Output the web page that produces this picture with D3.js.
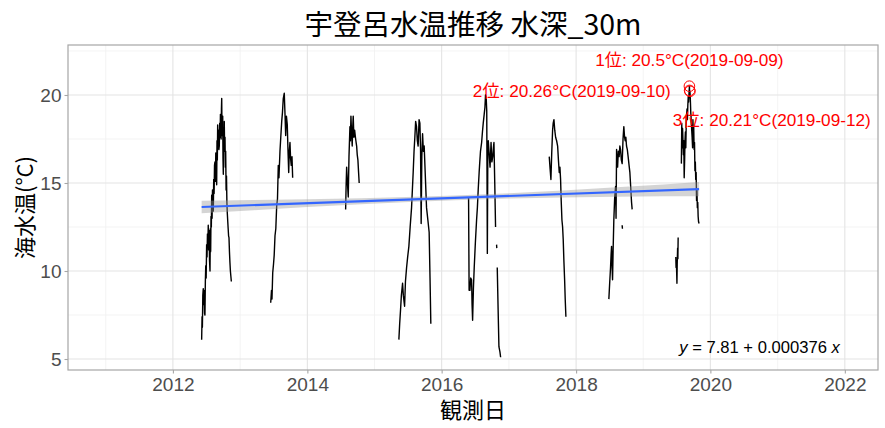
<!DOCTYPE html>
<html>
<head>
<meta charset="utf-8">
<script src="https://cdn.jsdelivr.net/npm/d3@7"></script>
<style>
  body { margin: 0; background: #fff; }
  text { font-family: "Liberation Sans", Arial, "Noto Sans CJK JP", sans-serif; }
  .cjk { font-family: "Noto Sans CJK JP", "Liberation Sans", sans-serif; }
</style>
</head>
<body>
<svg id="chart" width="885" height="428"></svg>
<script>
// Daily sea temperature at 30 m depth, Utoro. Each entry is [decimal year, °C];
// a null temperature marks a break in the record.
const season2012 = [
  [2012.427,6.1],[2012.433,7.4],[2012.438,6.8],[2012.444,8.6],[2012.451,9.0],[2012.457,8.1],
  [2012.463,8.9],[2012.470,7.6],[2012.476,7.5],[2012.482,9.4],[2012.488,10.3],[2012.494,9.6],
  [2012.501,11.5],[2012.507,10.8],[2012.513,12.1],[2012.519,11.4],[2012.525,12.6],[2012.531,11.2],
  [2012.538,12.3],[2012.544,10.6],[2012.551,10.0],[2012.556,12.4],[2012.561,11.1],[2012.566,13.1],
  [2012.571,12.5],[2012.576,14.3],[2012.582,13.0],[2012.588,14.6],[2012.594,13.8],[2012.600,13.4],
  [2012.606,15.2],[2012.612,14.4],[2012.618,16.0],[2012.625,16.2],[2012.631,15.1],[2012.637,16.7],
  [2012.644,15.6],[2012.650,14.9],[2012.655,17.4],[2012.660,16.3],[2012.665,18.3],[2012.671,17.2],
  [2012.677,18.0],[2012.683,16.9],[2012.689,17.1],[2012.695,18.4],[2012.701,17.6],[2012.706,18.9],
  [2012.710,18.7],[2012.716,17.5],[2012.721,19.2],[2012.725,19.8],[2012.729,18.1],[2012.734,17.7],
  [2012.740,18.8],[2012.744,16.4],[2012.749,15.5],[2012.754,17.9],[2012.759,16.8],[2012.763,18.5],
  [2012.768,17.0],[2012.774,17.6],[2012.779,15.9],[2012.784,16.8],[2012.790,14.6],[2012.796,15.4],
  [2012.802,13.9],[2012.808,13.3],[2012.815,12.8],[2012.821,12.4],[2012.827,12.0],[2012.833,11.9],
  [2012.840,11.1],[2012.847,10.5],[2012.854,10.0],[2012.861,9.7],[2012.868,9.4]
];
const season2013 = [
  [2013.454,8.2],[2013.466,8.9],[2013.473,8.4],[2013.484,9.9],[2013.496,10.4],[2013.506,10.9],
  [2013.518,12.0],[2013.530,12.4],[2013.543,13.7],[2013.555,14.1],[2013.567,16.0],[2013.577,15.3],
  [2013.592,16.8],[2013.604,17.6],[2013.618,18.5],[2013.629,19.0],[2013.641,19.8],[2013.656,20.1],
  [2013.667,18.9],[2013.677,17.7],[2013.688,18.8],[2013.701,18.3],[2013.711,16.9],[2013.722,15.6],
  [2013.731,16.8],[2013.741,17.3],[2013.750,16.4],[2013.760,16.0],[2013.771,16.5],[2013.781,15.3]
];
const season2014 = [
  [2014.570,13.5],[2014.577,14.8],[2014.585,15.9],[2014.597,15.0],[2014.609,14.2],[2014.620,16.5],
  [2014.634,18.2],[2014.641,17.4],[2014.649,18.8],[2014.658,17.9],[2014.668,17.1],[2014.676,18.2],
  [2014.683,18.8],[2014.693,17.6],[2014.704,18.0],[2014.719,17.5],[2014.734,17.1],[2014.743,16.6],
  [2014.753,16.3],[2014.763,15.6],[2014.772,15.0]
];
const season2015 = [
  [2015.363,6.1],[2015.375,7.0],[2015.388,7.8],[2015.400,8.6],[2015.418,9.3],[2015.430,8.6],
  [2015.448,8.0],[2015.461,9.4],[2015.478,10.2],[2015.494,10.8],[2015.512,11.4],[2015.531,12.5],
  [2015.552,13.6],[2015.564,14.6],[2015.576,15.6],[2015.589,16.8],[2015.601,17.6],[2015.613,18.5],
  [2015.626,18.2],[2015.638,17.4],[2015.650,17.1],[2015.664,18.6],[2015.676,18.4],[2015.686,16.9],
  [2015.695,12.7],[2015.705,16.5],[2015.716,17.8],[2015.728,16.8],[2015.740,17.1],[2015.757,15.4],
  [2015.775,13.6],[2015.795,12.9],[2015.814,12.2],[2015.827,9.6],[2015.839,7.0]
];
const season2016 = [
  [2016.400,14.2],[2016.408,8.9],[2016.420,8.9],[2016.432,9.6],[2016.445,9.5],[2016.452,8.1],
  [2016.460,7.2],[2016.472,9.0],[2016.484,10.2],[2016.501,11.6],[2016.519,12.9],[2016.531,13.6],
  [2016.543,14.6],[2016.557,15.6],[2016.565,16.1],[2016.577,16.8],[2016.594,17.3],[2016.606,17.9],
  [2016.618,18.4],[2016.632,18.9],[2016.643,19.3],[2016.652,20.0],[2016.661,19.9],[2016.670,19.1],
  [2016.679,11.0],[2016.686,16.8],[2016.693,17.4],[2016.707,16.6],[2016.719,15.9],[2016.734,17.3],
  [2016.746,16.2],[2016.759,16.5],[2016.769,17.0],[2016.777,17.3],[2016.789,15.0],[2016.801,12.5],
  [2016.809,null],[2016.816,11.5],[2016.819,11.3],[2016.822,null],
  [2016.826,10.2],[2016.839,7.8],[2016.851,5.7],[2016.866,5.4],[2016.876,5.1]
];
const season2017 = [
  [2017.600,16.5],[2017.613,15.8],[2017.625,15.2],[2017.637,16.7],[2017.650,18.0],[2017.659,18.4],
  [2017.670,18.6],[2017.682,18.0],[2017.695,17.6],[2017.710,17.4],[2017.725,17.1],[2017.737,16.3],
  [2017.749,15.6],[2017.759,15.9],[2017.769,15.2],[2017.778,14.0],[2017.789,12.9],[2017.799,12.5],
  [2017.808,11.8],[2017.818,10.6],[2017.829,9.5],[2017.838,8.4],[2017.848,7.4]
];
const season2018 = [
  [2018.488,8.4],[2018.500,9.3],[2018.513,10.2],[2018.521,10.9],[2018.528,11.4],[2018.536,10.2],
  [2018.543,9.5],[2018.552,11.3],[2018.562,12.9],[2018.574,14.1],[2018.588,14.8],[2018.595,13.0],
  [2018.603,16.9],[2018.610,16.2],[2018.618,15.9],[2018.629,16.8],[2018.641,16.5],[2018.652,17.1],
  [2018.662,16.9],[2018.674,16.3],[2018.686,16.1],[2018.699,17.5],[2018.711,18.2],[2018.722,17.6],
  [2018.731,17.4],[2018.741,17.6],[2018.751,17.1],[2018.763,16.9],[2018.775,16.5],[2018.789,16.0],
  [2018.801,15.6],[2018.813,14.8],[2018.826,13.9],[2018.835,13.5]
];
const season2019 = [
  [2019.485,10.8],[2019.489,10.2],[2019.494,10.6],[2019.498,9.9],[2019.502,9.3],[2019.506,10.4],
  [2019.512,11.3],[2019.516,10.7],[2019.520,11.9],[2019.540,null],
  [2019.568,16.1],[2019.574,18.4],[2019.580,17.0],[2019.586,18.1],[2019.592,17.4],[2019.598,16.6],
  [2019.604,17.4],[2019.610,15.3],[2019.616,16.2],[2019.622,17.4],[2019.628,17.9],[2019.634,17.0],
  [2019.640,18.3],[2019.646,18.8],[2019.652,19.2],[2019.658,18.6],[2019.664,19.4],[2019.670,19.9],
  [2019.676,19.6],[2019.682,20.1],[2019.688,20.5],[2019.690,20.26],[2019.693,19.9],[2019.696,20.21],
  [2019.702,19.7],[2019.708,19.0],[2019.715,18.6],[2019.722,18.0],[2019.728,17.6],[2019.735,17.0],
  [2019.740,18.6],[2019.746,17.6],[2019.752,18.2],[2019.758,16.9],[2019.764,17.3],[2019.770,15.7],
  [2019.776,16.2],[2019.782,15.2],[2019.788,15.6],[2019.794,14.0],[2019.800,14.6],[2019.806,13.6],
  [2019.812,13.9],[2019.818,13.1],[2019.824,12.8],[2019.832,12.7]
];
// isolated short readings outside the main runs
const strayReadings = [
  [[2018.686,12.6],[2018.690,12.4]]
];

// the three warmest days
const rankLabels = ["1位", "2位", "3位"];
const rankDates  = ["2019-09-09", "2019-09-10", "2019-09-12"];
const rankTemps  = [20.5, 20.26, 20.21];

// linear fit: temperature against days since 1970-01-01
const fitIntercept = 7.81;
const fitSlope = 0.000376;
// half-width of the 95% confidence band along the fit
const bandYears = [2012.427, 2013.2, 2014.0, 2014.8, 2015.6, 2016.2, 2017.0, 2017.8, 2018.6, 2019.3, 2019.832];
const bandHalf  = [0.36, 0.29, 0.22, 0.17, 0.14, 0.13, 0.15, 0.20, 0.27, 0.34, 0.40];

const yTicks = [5, 10, 15, 20];
const yMinor = [7.5, 12.5, 17.5, 22.5];
const xTickYears = [2012, 2014, 2016, 2018, 2020, 2022];
const xMinorYears = [2011, 2013, 2015, 2017, 2019, 2021];

const seasons = [season2012, season2013, season2014, season2015, season2016, season2017, season2018, season2019];

// ---- helpers ----
function yearToDate(y) {
  const yr = Math.floor(y);
  const a = Date.UTC(yr, 0, 1), b = Date.UTC(yr + 1, 0, 1);
  return new Date(a + (y - yr) * (b - a));
}
const parseDay = d3.utcParse("%Y-%m-%d");
const fitAt = d => fitIntercept + fitSlope * (d.getTime() / 864e5);
const DAY = 864e5;

// ---- layout ----
const svg = d3.select("#chart");
const W = 885, H = 428;
const panel = { left: 68, top: 45, right: 878, bottom: 370 };

const x = d3.scaleUtc()
  .domain([yearToDate(2010.4375), yearToDate(2022.494)])
  .range([panel.left, panel.right]);
const y = d3.scaleLinear()
  .domain([4.375, 22.84])
  .range([panel.bottom, panel.top]);

svg.append("rect").attr("width", W).attr("height", H).attr("fill", "#fff");

// grid
const grid = svg.append("g");
grid.selectAll(".ymin").data(yMinor).join("line")
  .attr("x1", panel.left).attr("x2", panel.right)
  .attr("y1", d => y(d)).attr("y2", d => y(d))
  .attr("stroke", "#f0f0f0").attr("stroke-width", 0.8);
grid.selectAll(".xmin").data(xMinorYears).join("line")
  .attr("y1", panel.top).attr("y2", panel.bottom)
  .attr("x1", d => x(yearToDate(d))).attr("x2", d => x(yearToDate(d)))
  .attr("stroke", "#f0f0f0").attr("stroke-width", 0.8);
grid.selectAll(".ymaj").data(yTicks).join("line")
  .attr("x1", panel.left).attr("x2", panel.right)
  .attr("y1", d => y(d)).attr("y2", d => y(d))
  .attr("stroke", "#e4e4e4").attr("stroke-width", 1.1);
grid.selectAll(".xmaj").data(xTickYears).join("line")
  .attr("y1", panel.top).attr("y2", panel.bottom)
  .attr("x1", d => x(yearToDate(d))).attr("x2", d => x(yearToDate(d)))
  .attr("stroke", "#e4e4e4").attr("stroke-width", 1.1);

svg.append("clipPath").attr("id", "panel-clip")
  .append("rect").attr("x", panel.left).attr("y", panel.top)
  .attr("width", panel.right - panel.left).attr("height", panel.bottom - panel.top);
const plot = svg.append("g").attr("clip-path", "url(#panel-clip)");

// temperature record
const line = d3.line()
  .defined(d => d[1] !== null)
  .x(d => x(yearToDate(d[0])))
  .y(d => y(d[1]));
plot.selectAll(".season").data(seasons.concat(strayReadings)).join("path")
  .attr("d", line)
  .attr("fill", "none").attr("stroke", "#000").attr("stroke-width", 1.4)
  .attr("stroke-linejoin", "round");

// confidence band and fitted line
const band = bandYears.map((yr, i) => {
  const d = yearToDate(yr);
  return { d, lo: fitAt(d) - bandHalf[i], hi: fitAt(d) + bandHalf[i] };
});
plot.append("path").datum(band)
  .attr("d", d3.area().x(p => x(p.d)).y0(p => y(p.lo)).y1(p => y(p.hi)))
  .attr("fill", "#999").attr("fill-opacity", 0.42);
const fitEnds = [yearToDate(bandYears[0]), yearToDate(bandYears[bandYears.length - 1])];
plot.append("path").datum(fitEnds)
  .attr("d", d3.line().x(d => x(d)).y(d => y(fitAt(d))))
  .attr("stroke", "#3366FF").attr("stroke-width", 2.1).attr("fill", "none");

// top three markers
const ranks = rankLabels.map((r, i) => ({ r, date: parseDay(rankDates[i]), dateText: rankDates[i], t: rankTemps[i] }));
plot.selectAll(".rank").data(ranks).join("circle")
  .attr("cx", d => x(d.date)).attr("cy", d => y(d.t)).attr("r", 5.3)
  .attr("fill", "none").attr("stroke", "#ff0000").attr("stroke-width", 1);

// rank labels: first above, second to the left, third below-right
const placement = [
  { dt: 0, dv: 1.5, anchor: "middle" },
  { dt: -102, dv: 0, anchor: "end" },
  { dt: -93, dv: -1.6, anchor: "start" }
];
svg.selectAll(".rank-label").data(ranks).join("text")
  .attr("x", (d, i) => x(new Date(d.date.getTime() + placement[i].dt * DAY)))
  .attr("y", (d, i) => y(d.t + placement[i].dv))
  .attr("dy", "0.36em")
  .attr("text-anchor", (d, i) => placement[i].anchor)
  .attr("font-size", 17.2).attr("fill", "#ff0000")
  .text(d => `${d.r}: ${d.t}°C(${d.dateText})`);

// fit equation
const eq = svg.append("text")
  .attr("x", x(yearToDate(2020.73))).attr("y", y(5.68)).attr("dy", "0.36em")
  .attr("text-anchor", "middle").attr("font-size", 16.6).attr("fill", "#000");
eq.append("tspan").attr("font-style", "italic").text("y");
eq.append("tspan").text(` = ${fitIntercept} + ${fitSlope.toFixed(6)} `);
eq.append("tspan").attr("font-style", "italic").text("x");

// panel border
svg.append("rect")
  .attr("x", panel.left).attr("y", panel.top)
  .attr("width", panel.right - panel.left).attr("height", panel.bottom - panel.top)
  .attr("fill", "none").attr("stroke", "#a6a6a6").attr("stroke-width", 1.2);

// axes
const xAxis = d3.axisBottom(x)
  .tickValues(xTickYears.map(yearToDate))
  .tickFormat(d3.utcFormat("%Y"))
  .tickSize(3.5).tickPadding(4);
const gx = svg.append("g").attr("transform", `translate(0,${panel.bottom})`).call(xAxis);
const yAxis = d3.axisLeft(y).tickValues(yTicks).tickSize(3.5).tickPadding(3);
const gy = svg.append("g").attr("transform", `translate(${panel.left},0)`).call(yAxis);
[gx, gy].forEach(g => {
  g.select(".domain").remove();
  g.selectAll(".tick line").attr("stroke", "#a6a6a6").attr("stroke-width", 1.1);
  g.selectAll(".tick text").attr("fill", "#4d4d4d").attr("font-size", 19)
    .attr("font-family", "Liberation Sans, Arial, sans-serif");
});

// titles
svg.append("text").attr("class", "cjk")
  .attr("x", (panel.left + panel.right) / 2).attr("y", 25).attr("dy", "0.36em")
  .attr("text-anchor", "middle").attr("font-size", 28.5).attr("fill", "#000")
  .text("宇登呂水温推移 水深_30m");
svg.append("text").attr("class", "cjk")
  .attr("x", (panel.left + panel.right) / 2).attr("y", 410).attr("dy", "0.36em")
  .attr("text-anchor", "middle").attr("font-size", 22).attr("fill", "#000")
  .text("観測日");
svg.append("text").attr("class", "cjk")
  .attr("transform", `translate(25,${(panel.top + panel.bottom) / 2}) rotate(-90)`)
  .attr("dy", "0.36em")
  .attr("text-anchor", "middle").attr("font-size", 22).attr("fill", "#000")
  .text("海水温(°C)");
</script>
</body>
</html>
